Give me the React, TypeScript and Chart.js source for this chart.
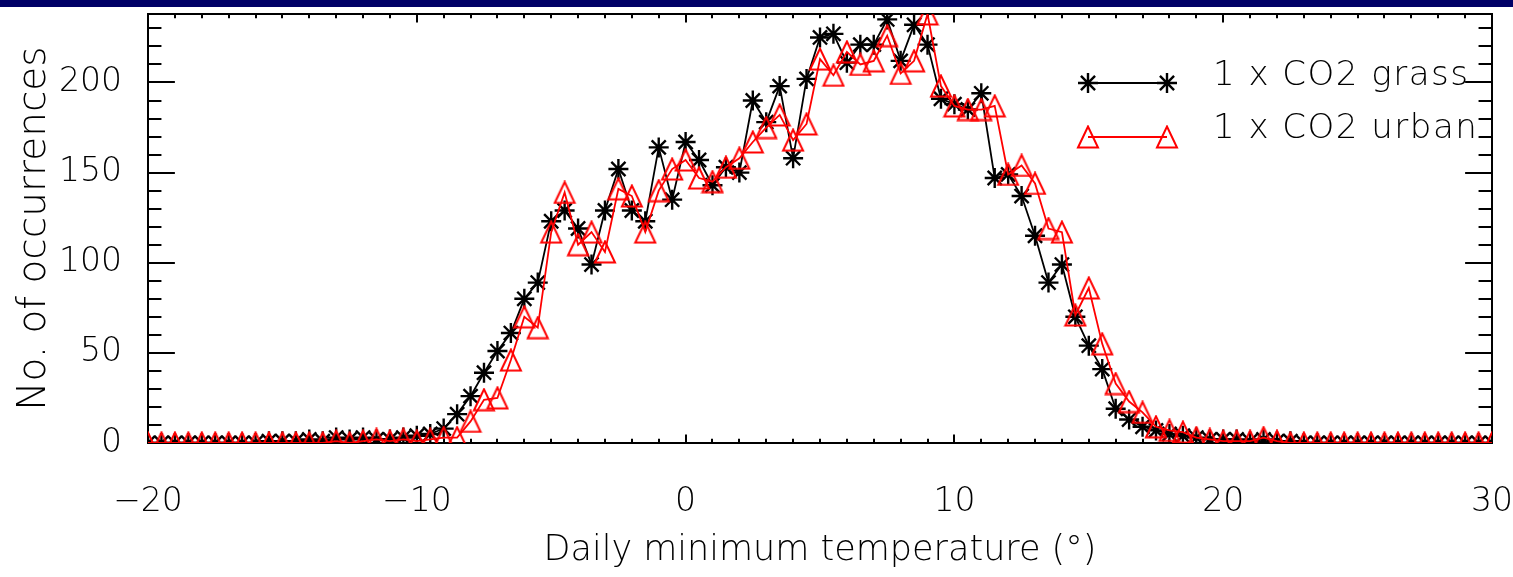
import React, { useEffect, useRef } from "react";
import { Chart, registerables } from "chart.js";

Chart.register(...registerables);

// ---- data (bins of 0.5 degree) ----
const temperatures = [
  -20, -19.5, -19, -18.5, -18, -17.5, -17, -16.5, -16, -15.5,
  -15, -14.5, -14, -13.5, -13, -12.5, -12, -11.5, -11, -10.5,
  -10, -9.5, -9, -8.5, -8, -7.5, -7, -6.5, -6, -5.5,
  -5, -4.5, -4, -3.5, -3, -2.5, -2, -1.5, -1, -0.5,
  0, 0.5, 1, 1.5, 2, 2.5, 3, 3.5, 4, 4.5,
  5, 5.5, 6, 6.5, 7, 7.5, 8, 8.5, 9, 9.5,
  10, 10.5, 11, 11.5, 12, 12.5, 13, 13.5, 14, 14.5,
  15, 15.5, 16, 16.5, 17, 17.5, 18, 18.5, 19, 19.5,
  20, 20.5, 21, 21.5, 22, 22.5, 23, 23.5, 24, 24.5,
  25, 25.5, 26, 26.5, 27, 27.5, 28, 28.5, 29, 29.5,
  30,
];

const grassCounts = [
  0, 0, 0, 0, 0, 0, 0, 0, 0, 1,
  1, 1, 2, 1, 3, 2, 3, 2, 2, 3,
  4, 5, 8, 16, 26, 39, 51, 61, 80, 89,
  123, 129, 119, 99, 129, 152, 129, 123, 164, 135,
  167, 157, 143, 153, 150, 190, 178, 198, 158, 202,
  225, 227, 211, 221, 221, 235, 212, 232, 221, 191,
  188, 185, 194, 147, 149, 137, 115, 89, 99, 70,
  54, 41, 19, 13, 9, 7, 5, 4, 3, 2,
  2, 2, 1, 2, 1, 1, 0, 0, 0, 0,
  0, 0, 0, 0, 0, 0, 0, 0, 0, 0,
  0,
];

const urbanCounts = [
  0, 0, 0, 0, 0, 0, 0, 0, 0, 0,
  0, 0, 0, 0, 1, 0, 1, 2, 1, 2,
  1, 2, 3, 3, 12, 24, 25, 46, 70, 64,
  117, 139, 110, 117, 106, 141, 137, 117, 140, 152,
  157, 147, 145, 153, 158, 167, 175, 182, 168, 177,
  213, 204, 217, 210, 212, 226, 205, 212, 238, 198,
  187, 185, 185, 187, 149, 154, 144, 119, 117, 71,
  86, 55, 33, 23, 17, 9, 7, 6, 3, 2,
  1, 1, 1, 3, 1, 0, 0, 0, 0, 0,
  0, 0, 0, 0, 0, 0, 0, 0, 0, 0,
  0,
];

const xTickValues = [-20, -10, 0, 10, 20, 30];
const yTickValues = [0, 50, 100, 150, 200];
const seriesLabels = ["1 x CO2 grass", "1 x CO2 urban"];
const xTitle = "Daily minimum temperature (°)";
const yTitle = "No. of occurrences";

// ---- layout / style constants ----
const W = 1513;
const H = 577;
const FAMILY = "'DejaVu Sans', 'Liberation Sans', sans-serif";
const WEIGHT = 200;
const X_MIN = -20;
const X_MAX = 30;
const Y_MIN = 0;
const Y_MAX = 238;
const X_MINOR_STEP = 1;
const X_MAJOR_STEP = 10;
const Y_MINOR_STEP = 10;
const Y_MAJOR_STEP = 50;

function fmtTick(v: number): string {
  return v < 0 ? "\u2212" + Math.abs(v) : String(v);
}

function makeTriangle(color: string): HTMLCanvasElement {
  const c = document.createElement("canvas");
  c.width = 24;
  c.height = 24;
  const g = c.getContext("2d") as CanvasRenderingContext2D;
  g.strokeStyle = color;
  g.lineWidth = 2;
  g.beginPath();
  g.moveTo(2, 22.5);
  g.lineTo(12, 1.5);
  g.lineTo(22, 22.5);
  g.closePath();
  g.stroke();
  return c;
}

function drawStar(ctx: CanvasRenderingContext2D, x: number, y: number, r: number) {
  const d = r * Math.SQRT1_2;
  ctx.beginPath();
  ctx.moveTo(x - r, y);
  ctx.lineTo(x + r, y);
  ctx.moveTo(x, y - r);
  ctx.lineTo(x, y + r);
  ctx.moveTo(x - d, y - d);
  ctx.lineTo(x + d, y + d);
  ctx.moveTo(x - d, y + d);
  ctx.lineTo(x + d, y - d);
  ctx.stroke();
}

export default function App() {
  const canvasRef = useRef<HTMLCanvasElement | null>(null);

  useEffect(() => {
    const canvas = canvasRef.current;
    if (!canvas) return;
    const tri = makeTriangle("#ff0000");

    const idlFrame = {
      id: "idlFrame",
      beforeDatasetsDraw(chart: any) {
        const { ctx, chartArea: a, scales } = chart;
        const xs = scales.x;
        const ys = scales.y;
        ctx.save();
        ctx.strokeStyle = "#000";
        ctx.lineWidth = 2;
        ctx.strokeRect(a.left, a.top, a.right - a.left, a.bottom - a.top);
        ctx.beginPath();
        const h = a.bottom - a.top;
        const w = a.right - a.left;
        for (let v = X_MIN; v <= X_MAX + 1e-9; v += X_MINOR_STEP) {
          const px = Math.round(xs.getPixelForValue(v));
          const major = Math.abs(v % X_MAJOR_STEP) < 1e-6;
          const len = major ? h * 0.02 : h * 0.01;
          ctx.moveTo(px, a.bottom);
          ctx.lineTo(px, a.bottom - len);
          ctx.moveTo(px, a.top);
          ctx.lineTo(px, a.top + len);
        }
        for (let v = Y_MIN; v <= Y_MAX + 1e-9; v += Y_MINOR_STEP) {
          const py = Math.round(ys.getPixelForValue(v));
          const major = Math.abs(v % Y_MAJOR_STEP) < 1e-6;
          const len = major ? w * 0.02 : w * 0.01;
          ctx.moveTo(a.left, py);
          ctx.lineTo(a.left + len, py);
          ctx.moveTo(a.right, py);
          ctx.lineTo(a.right - len, py);
        }
        ctx.stroke();
        ctx.restore();
      },
      afterDraw(chart: any) {
        const { ctx } = chart;
        ctx.save();
        // legend
        const x0 = 1088;
        const x1 = 1167;
        const yB = 83;
        const yR = 137;
        ctx.strokeStyle = "#000";
        ctx.lineWidth = 1.8;
        ctx.beginPath();
        ctx.moveTo(x0, yB);
        ctx.lineTo(x1, yB);
        ctx.stroke();
        ctx.lineWidth = 2.4;
        drawStar(ctx, x0, yB, 10);
        drawStar(ctx, x1, yB, 10);
        ctx.strokeStyle = "#ff0000";
        ctx.lineWidth = 1.8;
        ctx.beginPath();
        ctx.moveTo(x0, yR);
        ctx.lineTo(x1, yR);
        ctx.stroke();
        ctx.drawImage(tri, x0 - 12, yR - 12);
        ctx.drawImage(tri, x1 - 12, yR - 12);
        ctx.fillStyle = "#000";
        ctx.font = `${WEIGHT} 34px ${FAMILY}`;
        ctx.textAlign = "left";
        ctx.textBaseline = "alphabetic";
        try {
          (ctx as any).letterSpacing = "1.5px";
        } catch (e) {}
        ctx.fillText(seriesLabels[0], 1213, 85);
        ctx.fillText(seriesLabels[1], 1213, 138);
        try {
          (ctx as any).letterSpacing = "0px";
        } catch (e) {}
        // header band
        ctx.fillStyle = "#000066";
        ctx.fillRect(0, 0, W, 7);
        ctx.restore();
      },
    };

    const chart = new Chart(canvas, {
      type: "line",
      data: {
        datasets: [
          {
            label: seriesLabels[1],
            data: temperatures.map((t, i) => ({ x: t, y: urbanCounts[i] })),
            borderColor: "#ff0000",
            backgroundColor: "#ff0000",
            borderWidth: 1.8,
            pointStyle: tri as any,
            pointRadius: 11,
            pointHoverRadius: 11,
            tension: 0,
            fill: false,
            clip: 0,
            order: 0,
          },
          {
            label: seriesLabels[0],
            data: temperatures.map((t, i) => ({ x: t, y: grassCounts[i] })),
            borderColor: "#000000",
            backgroundColor: "#000000",
            borderWidth: 1.8,
            pointStyle: "star",
            pointRadius: 10,
            pointHoverRadius: 10,
            pointBorderColor: "#000000",
            pointBorderWidth: 2.4,
            tension: 0,
            fill: false,
            clip: 0,
            order: 1,
          },
        ],
      },
      options: {
        responsive: false,
        animation: false,
        devicePixelRatio: 1,
        events: [],
        layout: { padding: { top: 14, right: 21, left: 0, bottom: 0 } },
        plugins: {
          legend: { display: false },
          tooltip: { enabled: false },
          title: { display: false },
        },
        scales: {
          x: {
            type: "linear",
            min: X_MIN,
            max: X_MAX,
            grid: { display: false },
            border: { display: false },
            afterBuildTicks: (s: any) => {
              s.ticks = xTickValues.map((v) => ({ value: v }));
            },
            afterFit: (s: any) => {
              s.height = H - 443;
              s.paddingLeft = 0;
              s.paddingRight = 0;
            },
            ticks: {
              color: "#000",
              padding: 32,
              maxRotation: 0,
              autoSkip: false,
              font: { family: FAMILY, size: 33, weight: WEIGHT as any },
              callback: (v: any) => fmtTick(Number(v)),
            },
            title: {
              display: true,
              text: xTitle,
              color: "#000",
              font: { family: FAMILY, size: 35, weight: WEIGHT as any },
              padding: { top: 0, bottom: 5 },
            },
          },
          y: {
            type: "linear",
            min: Y_MIN,
            max: Y_MAX,
            grid: { display: false },
            border: { display: false },
            afterBuildTicks: (s: any) => {
              s.ticks = yTickValues.map((v) => ({ value: v }));
            },
            afterFit: (s: any) => {
              s.width = 148;
              s.paddingTop = 0;
              s.paddingBottom = 0;
            },
            ticks: {
              color: "#000",
              padding: 18,
              autoSkip: false,
              font: { family: FAMILY, size: 33, weight: WEIGHT as any },
              callback: (v: any) => fmtTick(Number(v)),
            },
            title: {
              display: true,
              text: yTitle,
              color: "#000",
              font: { family: FAMILY, size: 39, weight: WEIGHT as any },
              padding: { top: 11, bottom: 0 },
            },
          },
        },
      },
      plugins: [idlFrame],
    });

    return () => {
      chart.destroy();
    };
  }, []);

  return (
    <div
      style={{
        position: "fixed",
        left: 0,
        top: 0,
        width: W,
        height: H,
        background: "#ffffff",
      }}
    >
      <canvas ref={canvasRef} width={W} height={H} style={{ display: "block", width: W, height: H }} />
    </div>
  );
}
